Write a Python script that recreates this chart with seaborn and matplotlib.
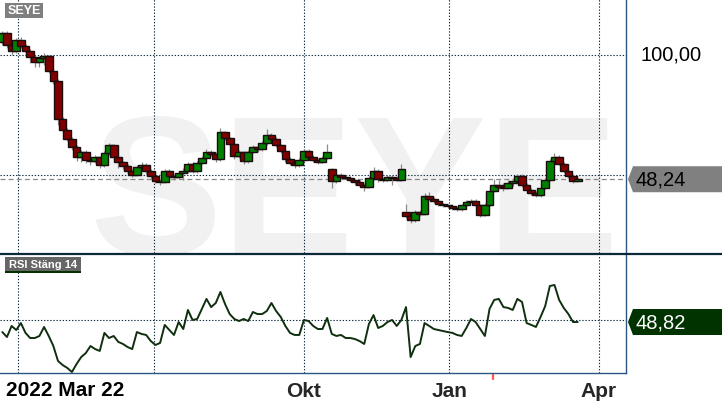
import numpy as np
import pandas as pd
import matplotlib
matplotlib.use('Agg')
import matplotlib.pyplot as plt
from matplotlib.patches import Polygon, Rectangle
from matplotlib.lines import Line2D
from matplotlib.transforms import blended_transform_factory, IdentityTransform
import seaborn as sns

# price candles (about every second trading day)
opens = [105.4, 109.2, 104.2, 101.7, 106.3, 103.8, 101.7, 99.2, 97.1, 98.8,
         99.6, 93.3, 89.2, 73.3, 68.8, 65.0, 61.7, 57.5, 59.6, 56.3,
         55.8, 57.5, 54.2, 59.2, 62.5, 57.5, 55.4, 53.8, 51.7, 50.0,
         53.3, 54.2, 51.7, 49.6, 47.5, 47.1, 51.7, 49.6, 49.2, 50.8,
         51.7, 54.6, 51.7, 55.0, 57.1, 59.6, 58.8, 56.7, 67.9, 65.4,
         62.9, 57.9, 59.6, 55.8, 59.6, 61.7, 60.8, 63.3, 66.7, 65.0,
         62.5, 60.0, 56.7, 55.0, 54.2, 56.3, 60.0, 57.5, 56.3, 55.4,
         57.1, 52.5, 47.5, 50.0, 49.2, 48.8, 47.9, 47.1, 45.8, 45.0,
         48.8, 51.7, 48.3, 47.9, 49.2, 48.8, 47.9, 34.6, 32.9, 31.3,
         34.6, 33.8, 41.3, 40.0, 39.2, 37.9, 37.5, 37.1, 36.3, 35.8,
         37.5, 38.8, 39.2, 37.5, 33.3, 37.5, 43.3, 45.8, 45.0, 44.6,
         46.7, 47.5, 49.6, 45.8, 43.8, 42.5, 41.7, 44.6, 47.9, 55.8,
         57.5, 54.6, 51.7, 49.6, 47.7]
closes = [109.2, 104.2, 101.7, 106.3, 103.8, 101.7, 99.2, 97.1, 98.8, 99.6,
          93.3, 89.2, 73.3, 68.8, 65.0, 61.7, 57.5, 59.6, 56.3, 55.8,
          57.5, 54.2, 59.2, 62.5, 57.5, 55.4, 53.8, 51.7, 50.0, 53.3,
          54.2, 51.7, 49.6, 47.5, 47.1, 51.7, 49.6, 49.2, 50.8, 51.7,
          54.6, 51.7, 55.0, 57.1, 59.6, 58.8, 56.7, 67.9, 65.4, 62.9,
          57.9, 59.6, 55.8, 59.6, 61.7, 60.8, 63.3, 66.7, 65.0, 62.5,
          60.0, 56.7, 55.0, 54.2, 56.3, 60.0, 57.5, 56.3, 55.4, 57.1,
          59.6, 47.5, 50.0, 49.2, 48.8, 47.9, 47.1, 45.8, 45.0, 48.8,
          51.7, 48.3, 47.9, 49.2, 48.8, 47.9, 52.5, 32.9, 31.3, 34.6,
          33.8, 41.3, 40.0, 39.2, 37.9, 37.5, 37.1, 36.3, 35.8, 37.5,
          38.8, 39.2, 37.5, 33.3, 37.5, 43.3, 45.8, 45.0, 44.6, 46.7,
          47.5, 49.6, 45.8, 43.8, 42.5, 41.7, 44.6, 47.9, 55.8, 57.5,
          54.6, 51.7, 49.6, 47.7, 48.24]
highs = [110.0, 109.8, 105.0, 107.0, 107.5, 104.5, 102.5, 100.0, 99.5, 101.0,
         100.2, 94.0, 89.8, 74.0, 69.5, 65.8, 62.3, 60.3, 60.5, 58.5,
         58.5, 58.0, 60.0, 63.5, 63.0, 58.0, 56.0, 54.5, 52.5, 54.0,
         55.5, 55.0, 52.5, 50.5, 48.5, 52.5, 52.5, 50.5, 51.5, 52.8,
         55.5, 55.5, 56.0, 58.0, 61.0, 60.5, 59.5, 69.5, 68.5, 66.0,
         63.5, 60.5, 60.0, 60.3, 62.5, 62.5, 64.0, 69.0, 67.5, 65.8,
         63.0, 60.8, 57.5, 56.0, 57.0, 61.0, 60.8, 58.3, 57.0, 58.0,
         63.0, 53.0, 50.8, 50.8, 50.0, 49.5, 48.5, 47.8, 46.5, 49.5,
         53.5, 52.5, 49.0, 50.0, 49.8, 49.5, 54.5, 38.0, 33.5, 35.5,
         35.5, 42.5, 43.0, 40.8, 39.8, 38.5, 38.0, 37.8, 37.0, 38.0,
         39.5, 40.0, 39.8, 38.0, 38.5, 44.0, 48.5, 48.0, 46.5, 48.0,
         48.3, 50.5, 50.3, 46.5, 44.5, 43.3, 45.3, 48.8, 56.5, 59.0,
         58.5, 55.3, 52.3, 50.3, 48.8]
lows = [104.0, 103.0, 100.0, 101.0, 103.0, 99.5, 96.5, 95.0, 95.0, 96.0,
        92.5, 88.0, 71.0, 67.5, 64.0, 60.5, 56.0, 55.5, 55.0, 54.0,
        55.0, 53.0, 53.5, 58.5, 56.5, 53.0, 52.5, 50.5, 49.0, 49.5,
        52.5, 50.5, 48.5, 46.5, 45.8, 46.5, 48.5, 48.0, 48.5, 48.0,
        51.0, 51.0, 51.0, 54.5, 56.5, 58.0, 55.5, 56.0, 64.5, 62.0,
        56.5, 57.0, 54.5, 55.0, 59.0, 59.5, 60.0, 62.5, 64.0, 61.5,
        59.0, 55.5, 54.0, 53.0, 53.5, 55.5, 56.5, 55.5, 54.5, 54.8,
        56.5, 44.5, 46.5, 48.3, 48.0, 47.0, 46.0, 45.0, 43.5, 44.5,
        48.0, 47.0, 47.0, 47.3, 46.0, 47.3, 47.5, 32.0, 30.0, 30.5,
        33.0, 33.3, 39.5, 38.5, 37.0, 36.8, 36.3, 35.5, 35.0, 35.0,
        37.0, 38.3, 36.8, 32.5, 33.0, 37.0, 43.0, 44.0, 43.5, 44.0,
        45.5, 47.0, 44.8, 43.0, 41.8, 41.0, 41.0, 44.0, 47.3, 55.0,
        54.0, 51.0, 48.8, 46.8, 47.0]
rsi = [42.9, 40.0, 46.5, 44.1, 48.2, 42.4, 39.4, 39.4, 40.6, 45.9,
       40.6, 34.7, 25.9, 23.5, 21.8, 19.4, 24.1, 28.2, 30.6, 34.7,
       32.9, 31.8, 42.4, 39.4, 40.6, 37.1, 35.9, 34.1, 32.9, 42.9,
       41.8, 41.2, 37.6, 35.3, 36.5, 47.1, 44.1, 41.2, 48.8, 44.7,
       55.9, 50.0, 50.6, 56.5, 62.4, 57.6, 60.0, 66.5, 59.4, 53.5,
       50.6, 49.4, 50.6, 49.4, 54.7, 53.5, 53.5, 55.3, 60.0, 55.3,
       51.8, 46.5, 42.4, 41.2, 41.2, 50.0, 49.4, 46.5, 44.7, 44.7,
       51.2, 41.8, 40.6, 41.2, 39.4, 39.4, 38.8, 37.6, 35.9, 47.6,
       52.9, 45.3, 46.5, 48.8, 50.0, 46.5, 50.0, 57.6, 28.2, 34.7,
       35.9, 48.2, 46.5, 44.7, 44.1, 43.5, 42.9, 42.4, 41.2, 40.6,
       45.3, 50.6, 48.8, 44.7, 40.6, 56.5, 61.8, 62.4, 57.6, 57.1,
       55.9, 62.4, 60.6, 48.2, 47.1, 45.9, 51.8, 58.2, 70.0, 70.6,
       61.8, 57.1, 53.5, 48.8, 48.82]

ticker = 'SEYE'
rsi_title = 'RSI Stäng 14'
tick_pos = [3.38, 32.7, 65.0, 96.3, 128.6]
tick_labels = ['', '', 'Okt', 'Jan', 'Apr']
first_label = '2022 Mar 22'
price_grid = [50, 100]
price_labels = ['50,00', '100,00']
last_close = closes[-1]
last_rsi = rsi[-1]
red_mark = 105.7

df = pd.DataFrame({'idx': np.arange(len(closes)), 'open': opens, 'close': closes,
                   'high': highs, 'low': lows, 'rsi': rsi})
df['up'] = df['close'] >= df['open']

sns.set_style('white')
plt.rcParams['font.family'] = ['Liberation Sans', 'DejaVu Sans']

W, H = 722, 410
fig = plt.figure(figsize=(W / 100, H / 100), dpi=100)
ax = fig.add_axes([0, 1 - 254 / H, 626 / W, 254 / H])
ax2 = fig.add_axes([0, 1 - 374 / H, 626 / W, 118 / H])
navy = '#0d2b3e'
blue = '#2c5783'
dots = (0, (1.2, 1.6))

# ---- price panel
ax.set_xlim(-0.5, 134.41)
ax.set_ylim(17.5, 123.33)
ax.text(0.566, -0.005, ticker, transform=ax.transAxes, ha='center', va='baseline',
        fontsize=143, fontweight='bold', color='#f1f1f1', zorder=0)
for p in tick_pos:
    ax.axvline(p, color=navy, lw=0.8, ls=dots, zorder=1)
for g in price_grid:
    ax.axhline(g, color=navy, lw=0.8, ls=dots, zorder=1)
ax.axhline(last_close, color='#888888', lw=0.9, ls=(0, (4, 2.5)), zorder=2)

ax.vlines(df['idx'], df['low'], df['high'], color='#8c8c8c', lw=0.9, zorder=2)
ax.bar(df['idx'], df['close'] - df['open'], bottom=df['open'], width=1.65,
       color=np.where(df['up'], '#008000', '#800000'), edgecolor='#1a0c0c',
       linewidth=1.0, zorder=3)

ax.set_xticks([])
ax.set_yticks([])
for s in ['top', 'left', 'bottom']:
    ax.spines[s].set_visible(False)
ax.spines['right'].set_color(blue)
ax.spines['right'].set_linewidth(1)

bt = blended_transform_factory(ax.transAxes, ax.transData)
for g, lab in zip(price_grid, price_labels):
    ax.text(1 + 15 / 626, g + 0.5, lab, transform=bt, ha='left', va='center',
            fontsize=14.5, color='black', clip_on=False)

# ---- RSI panel
sns.lineplot(x=df['idx'], y=df['rsi'], ax=ax2, color='#0f2f0f', lw=1.4, zorder=3)
ax2.set_xlim(-0.5, 134.41)
ax2.set_ylim(18.82, 88.24)
for p in tick_pos:
    ax2.axvline(p, color=navy, lw=0.8, ls=dots, zorder=1)
ax2.axhline(50, color=navy, lw=0.8, ls=dots, zorder=1)
ax2.set_xlabel('')
ax2.set_ylabel('')
ax2.set_yticks([])
ax2.set_xticks(tick_pos)
ax2.set_xticklabels(tick_labels, fontsize=15, fontweight='bold')
ax2.tick_params(axis='x', direction='out', length=4.5, width=1, color=navy, pad=1)
for s in ['top', 'left']:
    ax2.spines[s].set_visible(False)
for s in ['right', 'bottom']:
    ax2.spines[s].set_color(blue)
    ax2.spines[s].set_linewidth(1)
bt2 = blended_transform_factory(ax2.transData, ax2.transAxes)
ax2.plot([red_mark, red_mark], [-0.005, -0.055], transform=bt2, clip_on=False,
         color='#ff5555', lw=1.6)
fig.text(6 / W, 1 - 391 / H, first_label, ha='left', va='center', fontsize=15,
         fontweight='bold', color='black')

# panel separator
ident = IdentityTransform()
fig.add_artist(Line2D([0, W], [H - 255, H - 255], transform=ident, color='#0d2838', lw=1.6))


def value_tag(axis, value, text, face, tcol):
    yc = axis.transData.transform((0, value))[1]
    fig.add_artist(Polygon([(628, yc), (633, yc + 13), (W, yc + 13), (W, yc - 13), (633, yc - 13)],
                           closed=True, transform=ident, facecolor=face, edgecolor='none'))
    fig.text(635 / W, yc / H, text, ha='left', va='center', fontsize=14.5, color=tcol)


value_tag(ax, last_close, f'{last_close:.2f}'.replace('.', ','), '#808080', 'black')
value_tag(ax2, last_rsi, f'{last_rsi:.2f}'.replace('.', ','), '#003300', 'white')

# title tags
fig.add_artist(Rectangle((5, H - 19), 38, 15, transform=ident, facecolor='#7f7f7f', edgecolor='none'))
fig.text(24 / W, 1 - 11.5 / H, ticker, ha='center', va='center', fontsize=9,
         fontweight='bold', color='white')
fig.add_artist(Rectangle((5, H - 274), 76, 16, transform=ident, facecolor='#666666', edgecolor='none'))
fig.add_artist(Rectangle((5, H - 274), 76, 2, transform=ident, facecolor='#003300', edgecolor='none'))
fig.text(43 / W, 1 - 265 / H, rsi_title, ha='center', va='center', fontsize=8,
         fontweight='bold', color='white')

fig.savefig('out.png', dpi=100)
